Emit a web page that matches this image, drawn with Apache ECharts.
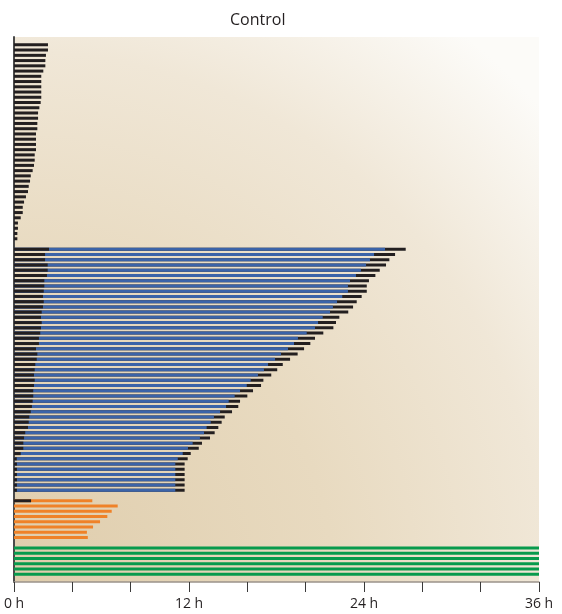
<!DOCTYPE html>
<html>
<head>
<meta charset="utf-8">
<script src="https://cdn.jsdelivr.net/npm/echarts@6/dist/echarts.min.js"></script>
<style>
html,body{margin:0;padding:0;background:#fff;}
#chart{width:562px;height:614px;}
</style>
</head>
<body>
<div id="chart"></div>
<script>
// ---- data (hours) ----
// rows with only an initial black segment
const blackOnlyEnd = [2.33, 2.33, 2.19, 2.15, 2.15, 2.01, 1.87, 1.87, 1.87, 1.87, 1.87, 1.83, 1.74, 1.65, 1.65, 1.6, 1.6, 1.51, 1.51, 1.51, 1.51, 1.42, 1.42, 1.37, 1.28, 1.15, 1.1, 1.01, 0.96, 0.82, 0.69, 0.6, 0.6, 0.46, 0.27, 0.27, 0.23, 0.23];
// rows with black -> blue -> black
const blueRowBlackEnd = [2.4, 2.13, 2.13, 2.31, 2.31, 2.26, 2.08, 2.08, 2.04, 1.99, 2.04, 1.99, 1.9, 1.85, 1.9, 1.85, 1.8, 1.71, 1.71, 1.51, 1.6, 1.56, 1.46, 1.42, 1.37, 1.42, 1.37, 1.32, 1.32, 1.28, 1.23, 1.15, 1.05, 1.01, 0.96, 0.77, 0.69, 0.64, 0.64, 0.46, 0.19, 0.2, 0.2, 0.2, 0.2, 0.2, 0.2];
const blueEnd = [25.44, 24.69, 24.41, 24.14, 23.79, 23.45, 23.04, 22.9, 22.9, 22.51, 22.15, 21.87, 21.67, 21.17, 20.85, 20.64, 20.07, 19.47, 19.2, 18.79, 18.31, 17.9, 17.42, 17.14, 16.73, 16.23, 15.96, 15.5, 15.13, 14.72, 14.54, 14.13, 13.71, 13.49, 13.21, 13.03, 12.75, 12.25, 11.93, 11.57, 11.23, 11.06, 11.06, 11.06, 11.06, 11.06, 11.06];
const blueTailEnd = [26.86, 26.13, 25.74, 25.51, 25.08, 24.78, 24.34, 24.19, 24.19, 23.84, 23.5, 23.25, 22.92, 22.31, 22.08, 21.9, 21.21, 20.64, 20.32, 19.89, 19.45, 18.93, 18.43, 18.05, 17.64, 17.1, 16.94, 16.39, 16.0, 15.5, 15.38, 14.95, 14.45, 14.24, 14.01, 13.76, 13.44, 12.89, 12.67, 12.12, 11.91, 11.7, 11.7, 11.7, 11.7, 11.7, 11.7];
// orange rows
const orangeBlackEnd = [1.17, null, null, null, null, null, null, null];
const orangeEnd = [5.37, 7.11, 6.7, 6.4, 5.9, 5.42, 5.0, 5.06];
// green rows
const greenEnd = [36, 36, 36, 36, 36, 36];
// axis
const xTicks = [0, 12, 24, 36];
const title = 'Control';

// ---- build rows (one category per row, blank rows as separators) ----
const head = [], tail = [], blue = [], orange = [], green = [], cats = [];
function pushRow(h, b, t, o, g) {
  cats.push('r' + cats.length);
  head.push(h == null ? '-' : h);
  blue.push(b == null ? '-' : b);
  tail.push(t == null ? '-' : t);
  orange.push(o == null ? '-' : o);
  green.push(g == null ? '-' : g);
}
pushRow(); // top padding
blackOnlyEnd.forEach(v => pushRow(v));
pushRow();
blueEnd.forEach((v, i) => pushRow(blueRowBlackEnd[i], v, blueTailEnd[i]));
pushRow();
orangeEnd.forEach((v, i) => pushRow(orangeBlackEnd[i], null, null, v));
pushRow();
greenEnd.forEach(v => pushRow(null, null, null, null, v));
pushRow(); // bottom padding

const BW = 3;
const chart = echarts.init(document.getElementById('chart'), null, {renderer: 'canvas'});
const bg = new echarts.graphic.RadialGradient(0, 1, 1.35, [
  {offset: 0, color: '#dfcdac'},
  {offset: 0.45, color: '#e8dac0'},
  {offset: 0.75, color: '#f0e7d7'},
  {offset: 1, color: '#fcfbf8'}
]);
function barSeries(data, color, z) {
  return {
    type: 'bar', data: data, barWidth: BW, barGap: '-100%', z: z,
    itemStyle: {color: color}, silent: true, animation: false
  };
}
chart.setOption({
  animation: false,
  title: {
    text: title, left: 225, top: 7,
    textStyle: {fontFamily: 'Open Sans', fontSize: 16, fontWeight: 'normal', color: '#231f20'}
  },
  grid: {
    left: 14, right: 23, top: 37, bottom: 32,
    show: true, backgroundColor: bg, borderWidth: 0
  },
  xAxis: {
    type: 'value', min: 0, max: 36, interval: 4,
    axisLine: {show: true, onZero: false, lineStyle: {color: '#9a938a', width: 1.5}},
    axisTick: {show: true, length: 10, lineStyle: {color: '#3a3a3a', width: 1}},
    splitLine: {show: false},
    axisLabel: {
      margin: 15, fontFamily: 'Open Sans', fontSize: 14, color: '#231f20',
      formatter: v => xTicks.indexOf(v) >= 0 ? v + ' h' : ''
    }
  },
  yAxis: {
    type: 'category', data: cats, inverse: true,
    axisLine: {show: true, lineStyle: {color: '#4a4a4a', width: 2}},
    axisTick: {show: false}, axisLabel: {show: false}, splitLine: {show: false}
  },
  series: [
    barSeries(tail, '#231f20', 2),
    barSeries(blue, '#3b63a8', 3),
    barSeries(orange, '#ef8228', 3),
    barSeries(green, '#079a4c', 3),
    barSeries(head, '#231f20', 4)
  ]
});
</script>
</body>
</html>
